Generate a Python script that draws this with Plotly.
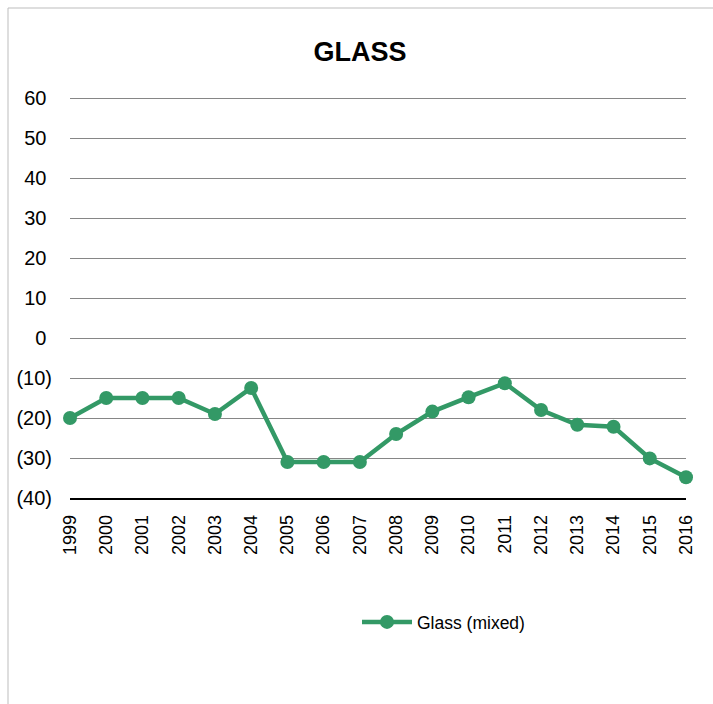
import plotly.graph_objects as go

years = [str(y) for y in range(1999, 2017)]
glass_mixed = [-20, -15, -15, -15, -19, -12.5, -31, -31, -31, -24, -18.4, -14.8, -11.3, -18, -21.7, -22.2, -30.1, -34.8]
y_tick_vals = [-40, -30, -20, -10, 0, 10, 20, 30, 40, 50, 60]
y_tick_text = ["(40)", "(30)", "(20)", "(10)", "0\u00a0", "10\u00a0", "20\u00a0", "30\u00a0", "40\u00a0", "50\u00a0", "60\u00a0"]

W, H = 713, 704
L, R, T, B = 70, 27, 96, 206
pw, ph = W - L - R, H - T - B

green = "#339966"
font = "Liberation Sans, Arial, sans-serif"

fig = go.Figure()
fig.add_trace(go.Scatter(
    x=years, y=glass_mixed, mode="lines+markers", name="Glass (mixed)",
    line=dict(color=green, width=4.5),
    marker=dict(color=green, size=14),
    cliponaxis=False,
))

fig.update_layout(
    width=W, height=H,
    margin=dict(l=L, r=R, t=T, b=B),
    paper_bgcolor="white", plot_bgcolor="white",
    title=dict(text="<b>GLASS</b>", x=(360) / W, xanchor="center", y=1 - 52 / H, yanchor="middle",
               font=dict(family=font, size=27, color="black")),
    showlegend=True,
    legend=dict(orientation="h", x=(357 - L) / pw, xanchor="left", y=(T + ph - 622) / ph, yanchor="middle",
                font=dict(family=font, size=17.5, color="black"), itemwidth=50, bgcolor="rgba(0,0,0,0)"),
    xaxis=dict(type="category", range=[0, len(years) - 1], tickangle=-90, showgrid=False,
               showline=True, linecolor="black", linewidth=1.5, ticks="",
               tickfont=dict(family=font, size=18, color="black"), ticklabelstandoff=8),
    yaxis=dict(range=[-40, 60.5], tickvals=y_tick_vals, ticktext=y_tick_text, showgrid=True,
               gridcolor="#868686", gridwidth=1, zeroline=False, showline=False, ticks="",
               tickfont=dict(family=font, size=20, color="black"), ticklabelstandoff=17),
    shapes=[dict(type="rect", xref="paper", yref="paper",
                 x0=(8 - L) / pw, x1=(W + 10 - L) / pw,
                 y0=(T + ph - (H + 10)) / ph, y1=(T + ph - 8) / ph,
                 line=dict(color="#bdbdbd", width=1), fillcolor="rgba(0,0,0,0)", layer="below")],
)

fig.write_html("out.html", config={"displayModeBar": False},
               post_script="document.body.style.margin='0';document.body.style.overflow='hidden';")
